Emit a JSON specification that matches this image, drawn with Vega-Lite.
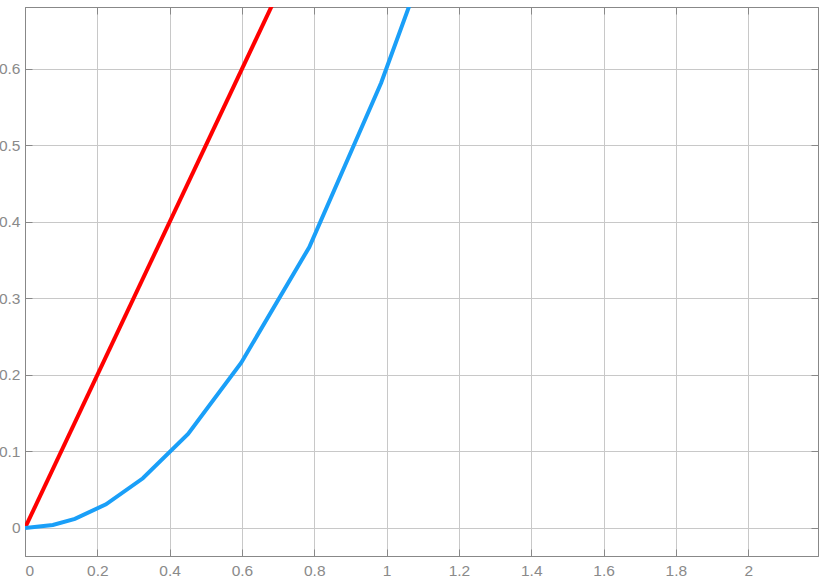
{
  "$schema": "https://vega.github.io/schema/vega-lite/v6.json",
  "width": 793,
  "height": 549,
  "autosize": "none",
  "padding": {"left": 25, "top": 7, "right": 5, "bottom": 28},
  "background": "white",
  "config": {"view": {"stroke": "#888888", "strokeWidth": 1}},
  "data": {"values": [
    {"s": "red", "x": 0, "y": 0},
    {"s": "red", "x": 0.8, "y": 0.8},
    {"s": "blue", "x": 0, "y": 0},
    {"s": "blue", "x": 0.077, "y": 0.004},
    {"s": "blue", "x": 0.138, "y": 0.012},
    {"s": "blue", "x": 0.224, "y": 0.031},
    {"s": "blue", "x": 0.326, "y": 0.065},
    {"s": "blue", "x": 0.451, "y": 0.123},
    {"s": "blue", "x": 0.598, "y": 0.216},
    {"s": "blue", "x": 0.786, "y": 0.367},
    {"s": "blue", "x": 0.985, "y": 0.582},
    {"s": "blue", "x": 1.2, "y": 0.86}
  ]},
  "layer": [
    {
      "mark": {"type": "line", "strokeWidth": 4, "clip": true},
      "encoding": {
        "x": {"field": "x", "type": "quantitative",
          "scale": {"domain": [0, 2.193], "nice": false, "zero": false},
          "axis": {"values": [0, 0.2, 0.4, 0.6, 0.8, 1, 1.2, 1.4, 1.6, 1.8, 2], "format": "~g", "title": null,
            "domainColor": "#888888", "tickColor": "#888888", "tickSize": -7, "labelPadding": 14, "labelFontSize": 15.5, "labelColor": "#8a8a8a", "labelFont": "Liberation Sans",
            "gridColor": "#c8c8c8", "gridWidth": 1}},
        "y": {"field": "y", "type": "quantitative",
          "scale": {"domain": [-0.0366, 0.681], "nice": false, "zero": false},
          "axis": {"values": [0, 0.1, 0.2, 0.3, 0.4, 0.5, 0.6], "format": "~g", "title": null,
            "domainColor": "#888888", "tickColor": "#888888", "tickSize": -7, "labelPadding": 12, "labelFontSize": 15.5, "labelColor": "#8a8a8a", "labelFont": "Liberation Sans",
            "gridColor": "#c8c8c8", "gridWidth": 1}},
        "color": {"field": "s", "type": "nominal", "legend": null,
          "scale": {"domain": ["red", "blue"], "range": ["#ff0000", "#1a9ff8"]}},
        "detail": {"field": "s"}
      }
    },
    {
      "mark": {"type": "point", "opacity": 0, "clip": true},
      "encoding": {
        "x": {"field": "x", "type": "quantitative",
          "axis": {"orient": "top", "values": [0, 0.2, 0.4, 0.6, 0.8, 1, 1.2, 1.4, 1.6, 1.8, 2], "labels": false, "grid": false, "title": null,
            "domainColor": "#888888", "tickColor": "#888888", "tickSize": -7}},
        "y": {"field": "y", "type": "quantitative",
          "axis": {"orient": "right", "values": [0, 0.1, 0.2, 0.3, 0.4, 0.5, 0.6], "labels": false, "grid": false, "title": null,
            "domainColor": "#888888", "tickColor": "#888888", "tickSize": -7}}
      }
    }
  ],
  "resolve": {"axis": {"x": "independent", "y": "independent"}}
}
